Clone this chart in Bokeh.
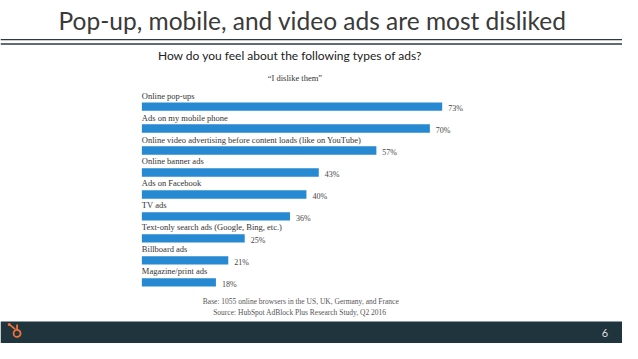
from bokeh.plotting import figure
from bokeh.models import Range1d, ColumnDataSource
from bokeh.core.properties import value
from bokeh.embed import file_html
from bokeh.resources import INLINE

# ---- data ----
categories = [
    "Online pop-ups",
    "Ads on my mobile phone",
    "Online video advertising before content loads (like on YouTube)",
    "Online banner ads",
    "Ads on Facebook",
    "TV ads",
    "Text-only search ads (Google, Bing, etc.)",
    "Billboard ads",
    "Magazine/print ads",
]
dislike_pct = [73, 70, 57, 43, 40, 36, 25, 21, 18]
pct_labels = [f"{v}%" for v in dislike_pct]

title_text = "Pop-up, mobile, and video ads are most disliked"
question_text = "How do you feel about the following types of ads?"
answer_text = "\u201cI dislike them\u201d"
base_text = "Base: 1055 online browsers in the US, UK, Germany, and France"
source_text = "Source: HubSpot AdBlock Plus Research Study, Q2 2016"
page_number = "6"

# ---- layout (slide pixel geometry, 638 x 359 slide) ----
W, H = 622, 343
SW, SH = 638, 359
BAR_X0 = 145                  # slide x of 0%
PX_PER_PCT = 4.22
ROW0_Y = 111                  # slide y of first bar centre
ROW_STEP = 23

x_start = (0 - BAR_X0) / PX_PER_PCT
x_end = (SW - BAR_X0) / PX_PER_PCT
y_top = (0 - ROW0_Y) / ROW_STEP
y_bot = (SH - ROW0_Y) / ROW_STEP

p = figure(width=W, height=H, output_backend="svg", toolbar_location=None,
           x_axis_type=None, y_axis_type=None, min_border=0,
           x_range=Range1d(x_start, x_end), y_range=Range1d(y_bot, y_top))
p.grid.visible = False
p.outline_line_color = None
p.background_fill_color = "white"
p.border_fill_color = "white"
p.extra_x_ranges = {"px": Range1d(0, SW)}
p.extra_y_ranges = {"px": Range1d(SH, 0)}

idx = list(range(len(categories)))
src = ColumnDataSource(dict(
    idx=idx,
    cat=categories,
    pct=dislike_pct,
    lab=pct_labels,
    cat_y=[i - 0.5 for i in idx],
    lab_y=[i + 0.1 for i in idx],
))

p.hbar(y="idx", left=0, right="pct", height=0.38, source=src,
       fill_color="#2689d2", line_color=None)
p.text(x=0, y="cat_y", text="cat", source=src, text_align="left",
       text_baseline="middle", text_font=value("Liberation Serif"),
       text_font_size="8.5px", text_color="#333333")
p.text(x="pct", y="lab_y", text="lab", source=src, x_offset=6,
       text_align="left", text_baseline="middle",
       text_font=value("Liberation Serif"), text_font_size="8px",
       text_color="#444444")

PX = dict(x_range_name="px", y_range_name="px")

# title and rules
p.text(x=[320], y=[21], text=[title_text], text_align="center",
       text_baseline="middle", text_font=value("Lato"),
       text_font_size="24.5px", text_color="#3a3a3a", **PX)
p.segment(x0=[0, 0], x1=[640, 640], y0=[41, 45.5], y1=[41, 45.5],
          line_color="#2d3a44", line_width=1.4, **PX)

# question / answer
p.text(x=[297], y=[58], text=[question_text], text_align="center",
       text_baseline="middle", text_font=value("Lato"),
       text_font_size="12px", text_color="#222222", **PX)
p.text(x=[302], y=[81], text=[answer_text], text_align="center",
       text_baseline="middle", text_font=value("Liberation Serif"),
       text_font_size="8.5px", text_color="#333333", **PX)

# footnotes
p.text(x=[308], y=[315], text=[base_text], text_align="center",
       text_baseline="middle", text_font=value("Liberation Serif"),
       text_font_size="7.5px", text_color="#555555", **PX)
p.text(x=[307], y=[327], text=[source_text], text_align="center",
       text_baseline="middle", text_font=value("Liberation Serif"),
       text_font_size="7.5px", text_color="#555555", **PX)

# footer band
p.quad(left=[0], right=[640], top=[336], bottom=[360],
       fill_color="#1f343d", line_color=None, **PX)
# logo (sprocket)
p.segment(x0=[9, 17], x1=[15, 17], y0=[339, 339], y1=[344, 344],
          line_color="#f0733a", line_width=1.8, **PX)
p.scatter(x=[17], y=[348.5], marker="circle", size=7, fill_color=None,
          line_color="#f0733a", line_width=1.8, **PX)
p.scatter(x=[9], y=[339], marker="circle", size=3, fill_color="#f0733a",
          line_color=None, **PX)
p.text(x=[620], y=[348], text=[page_number], text_align="center",
       text_baseline="middle", text_font=value("Lato"),
       text_font_size="11px", text_color="#dddddd", **PX)

open("out.html", "w").write(file_html(p, INLINE))
